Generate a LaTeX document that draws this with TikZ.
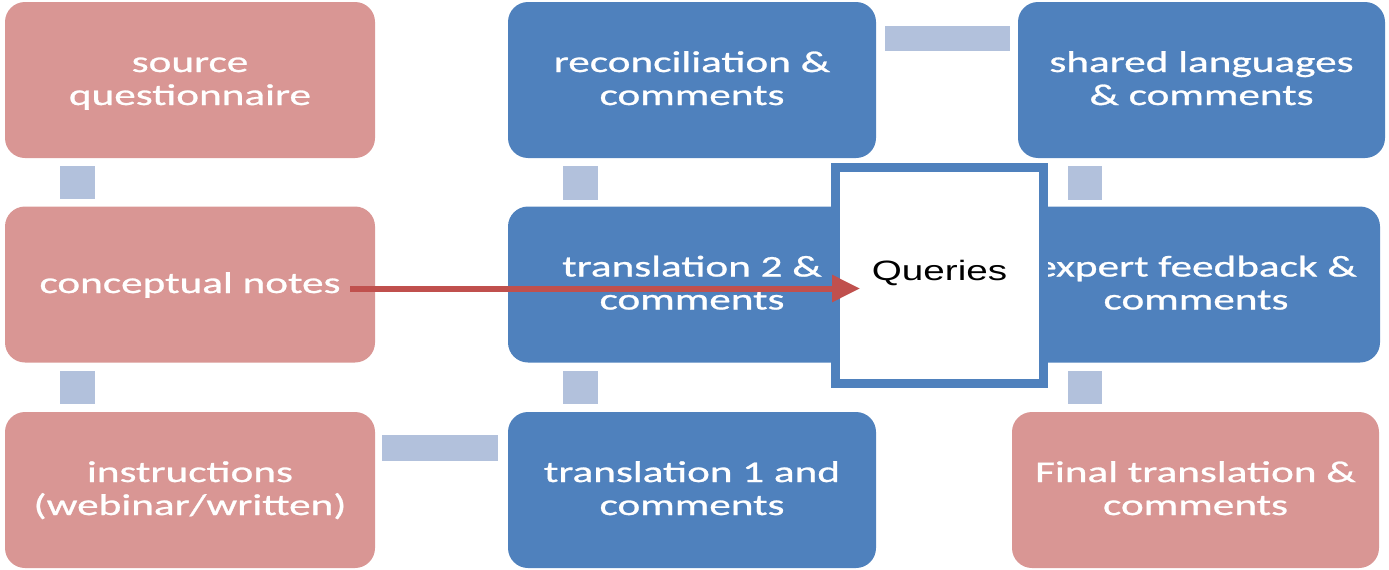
\documentclass[tikz,border=0pt]{standalone}
\usepackage{fontspec}
\setmainfont{Carlito}[FakeStretch=1.44,FakeBold=0.9]
\newfontfamily\qfont{Liberation Sans}[FakeStretch=1.38]
\usetikzlibrary{calc,arrows.meta}
\definecolor{pinkbox}{HTML}{D99694}
\definecolor{bluebox}{HTML}{4F81BD}
\definecolor{connc}{HTML}{B2C1DC}
\definecolor{arrc}{HTML}{C0504D}
\newcommand\twoline[2]{\raisebox{0pt}[0pt][16pt]{\begin{tabular}[t]{@{}c@{}}#1\\#2\end{tabular}}}
\newcommand\oneline[1]{\raisebox{0pt}[17pt][0pt]{#1}}
\tikzset{
  box/.style={rectangle, rounded corners=20pt, inner sep=0pt, outer sep=0pt,
    minimum width=368pt, minimum height=156pt, text=white,
    font=\fontsize{30}{33}\selectfont},
  pbox/.style={box, fill=pinkbox},
  bbox/.style={box, fill=bluebox},
  conn/.style={fill=connc},
  qbox/.style={rectangle, draw=bluebox, line width=9pt, fill=white, inner sep=0pt,
    outer sep=0pt, minimum width=208pt, minimum height=216pt, text=black,
    font=\qfont\fontsize{28}{32}\selectfont},
  arr/.style={draw=arrc, line width=6pt, -{Triangle[length=28pt,width=26pt]}}
}
\begin{document}
\begin{tikzpicture}[x=1pt,y=-1pt]
\useasboundingbox (0,0) rectangle (1389,570);
% column 1
\node[pbox, minimum width=370pt] (src) at (190,80) {\twoline{source}{questionnaire}};
\node[pbox, minimum width=370pt] (cn) at (190,284.5) {\oneline{conceptual notes}};
\node[pbox, minimum width=370pt] (ins) at (190,490) {\twoline{instructions}{(webinar/written)}};
% column 2
\node[bbox] (rec) at (692,80) {\twoline{reconciliation \&}{comments}};
\node[bbox] (t2) at (692,284.5) {\twoline{translation 2 \&}{comments}};
\node[bbox] (t1) at (692,490) {\twoline{translation 1 and}{comments}};
% column 3
\node[bbox, minimum width=367pt] (sh) at (1201.5,80) {\twoline{shared languages}{\& comments}};
\node[bbox, minimum width=368pt] (ex) at (1196,284.5) {\twoline{expert feedback \&}{comments}};
\node[pbox, minimum width=367pt] (fin) at (1195.5,490) {\twoline{Final translation \&}{comments}};
% connectors
\fill[conn] ($(src.south west)+(55,8)$) rectangle ($(cn.north west)+(90,-8)$);
\fill[conn] ($(cn.south west)+(55,8)$) rectangle ($(ins.north west)+(90,-8)$);
\fill[conn] ($(rec.south west)+(55,8)$) rectangle ($(t2.north west)+(90,-7)$);
\fill[conn] ($(t2.south west)+(55,8)$) rectangle ($(t1.north west)+(90,-8)$);
\fill[conn] ($(sh.south west)+(50,8)$) rectangle ($(ex.north west)+(90,-7)$);
\fill[conn] ($(ex.south west)+(56,8)$) rectangle ($(fin.north west)+(90,-8)$);
\fill[conn] ($(ins.east)+(7,-55)$) rectangle ($(t1.west)+(-10,-29)$);
\fill[conn] ($(rec.east)+(9,-54)$) rectangle ($(sh.west)+(-8,-29)$);
% queries
\node[qbox] (q) at (939.5,275.5) {\raisebox{0pt}[9pt][0pt]{Queries}};
\draw[arr] ($(cn.east)+(-25,4)$) -- ($(q.west)+(24.5,13)$);
\end{tikzpicture}
\end{document}
